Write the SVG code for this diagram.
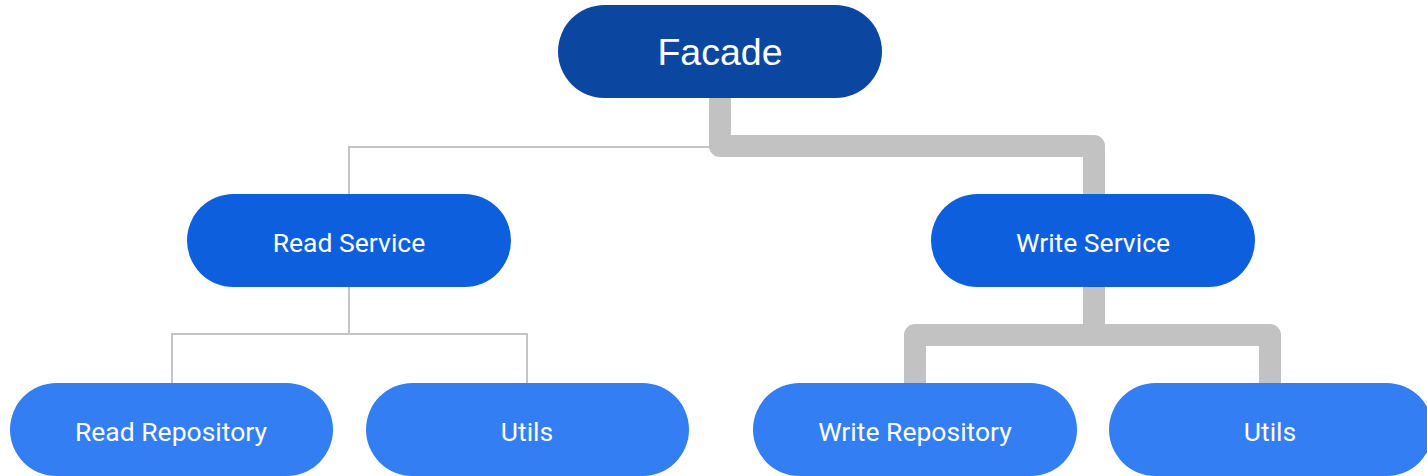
<svg xmlns="http://www.w3.org/2000/svg" width="1427" height="476" viewBox="0 0 1427 476">
<style>
.thin{fill:none;stroke:#c4c4c4;stroke-width:2}
.thick{fill:none;stroke:#c2c2c2;stroke-width:22;stroke-linejoin:round}
.t{fill:#fff;font-family:Roboto,"Liberation Sans",sans-serif;font-size:26.5px;text-anchor:middle;dominant-baseline:central}
</style>
<rect width="1427" height="476" fill="#fff"/>
<g id="connectors">
<path class="thin" d="M349 194V147H712"/>
<path class="thick" d="M720 98V146H1094V194"/>
<path class="thin" d="M349 287V334H172V383M349 334H527V383"/>
<path class="thick" d="M1094 287V335M915 383V335H1270V383"/>
</g>
<g id="facade"><rect x="558" y="5" width="324" height="93" rx="46.5" fill="#0b46a0"/><text class="t" x="720" y="52" style="font-family:'Liberation Sans',Arial,sans-serif;font-size:37.5px">Facade</text></g>
<g id="read-service"><rect x="187" y="194" width="324" height="93" rx="46.5" fill="#0d5fde"/><text class="t" x="349" y="242">Read Service</text></g>
<g id="write-service"><rect x="931" y="194" width="324" height="93" rx="46.5" fill="#0d5fde"/><text class="t" x="1093" y="242">Write Service</text></g>
<g id="read-repository"><rect x="10" y="383" width="323" height="93" rx="46.5" fill="#327ef2"/><text class="t" x="171" y="431">Read Repository</text></g>
<g id="utils-left"><rect x="366" y="383" width="323" height="93" rx="46.5" fill="#327ef2"/><text class="t" x="527" y="431">Utils</text></g>
<g id="write-repository"><rect x="753" y="383" width="324" height="93" rx="46.5" fill="#327ef2"/><text class="t" x="915" y="431">Write Repository</text></g>
<g id="utils-right"><rect x="1109" y="383" width="324" height="93" rx="46.5" fill="#327ef2"/><text class="t" x="1270" y="431">Utils</text></g>
</svg>
